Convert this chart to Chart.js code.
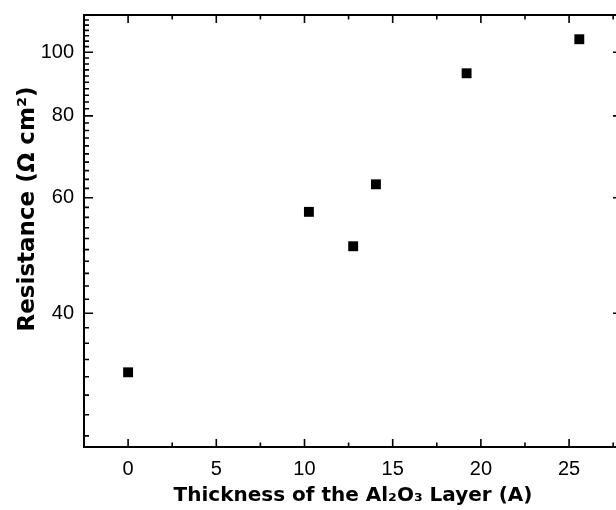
<!DOCTYPE html>
<html>
<head>
<meta charset="utf-8">
<script src="https://cdn.jsdelivr.net/npm/chart.js@4.4.1/dist/chart.umd.min.js"></script>
<style>
  html, body { margin: 0; padding: 0; background: #fff; overflow: hidden; }
  #wrap { position: relative; width: 626px; height: 510px; }
  #c { display: block; width: 626px; height: 510px; }
</style>
</head>
<body>
<div id="wrap"><canvas id="c" width="626" height="510"></canvas></div>
<script>
// ---- data ----
const thickness = [0, 10.25, 12.76, 14.05, 19.19, 25.58];
const resistance = [32.5, 57.1, 50.6, 62.9, 92.9, 104.7];
const xTickValues = [0, 5, 10, 15, 20, 25];
const yTickValues = [40, 60, 80, 100];
const xTitle = 'Thickness of the Al\u2082O\u2083 Layer (A)';
const yTitle = 'Resistance (\u03A9 cm\u00B2)';

const framePlugin = {
  id: 'frameTicks',
  beforeDraw(chart) {
    const s = chart.scales.y;
    if (s && !s._titleShifted) {
      const orig = s.drawTitle.bind(s);
      s.drawTitle = function () {
        this.ctx.save();
        this.ctx.translate(0, -22);
        orig();
        this.ctx.restore();
      };
      s._titleShifted = true;
    }
  },
  afterDraw(chart) {
    const ctx = chart.ctx;
    const a = chart.chartArea;
    const xs = chart.scales.x, ys = chart.scales.y;
    ctx.save();
    ctx.strokeStyle = '#000';
    ctx.lineWidth = 2;
    ctx.strokeRect(a.left, a.top, a.right - a.left, a.bottom - a.top);
    ctx.lineWidth = 1.6;
    ctx.beginPath();
    for (let v = xs.min; v <= xs.max + 1e-9; v += 2.5) {
      const px = xs.getPixelForValue(v);
      if (px <= a.left + 1 || px >= a.right - 1) continue;
      const major = Math.abs(v / 5 - Math.round(v / 5)) < 1e-6;
      const len = major ? 8 : 4.5;
      ctx.moveTo(px, a.bottom); ctx.lineTo(px, a.bottom - len);
      ctx.moveTo(px, a.top); ctx.lineTo(px, a.top + len);
    }
    for (let v = 26; v <= ys.max + 1e-9; v += 2) {
      const py = ys.getPixelForValue(v);
      if (py <= a.top + 1 || py >= a.bottom - 1) continue;
      const major = yTickValues.includes(v);
      const len = major ? 9 : 5;
      ctx.moveTo(a.left, py); ctx.lineTo(a.left + len, py);
      ctx.moveTo(a.right, py); ctx.lineTo(a.right - len, py);
    }
    ctx.stroke();
    ctx.restore();
  }
};

new Chart(document.getElementById('c'), {
  type: 'scatter',
  data: {
    datasets: [{
      data: thickness.map((x, i) => ({ x: x, y: resistance[i] })),
      pointStyle: 'rect',
      pointRadius: 7,
      pointBorderWidth: 0,
      backgroundColor: '#000',
      borderColor: '#000'
    }]
  },
  options: {
    responsive: false,
    maintainAspectRatio: false,
    devicePixelRatio: 1,
    animation: false,
    events: [],
    layout: { autoPadding: false, padding: { left: 0, right: 4, top: 15, bottom: 0 } },
    plugins: { legend: { display: false }, tooltip: { enabled: false } },
    scales: {
      x: {
        type: 'linear', min: -2.5, max: 28,
        grid: { display: false, drawTicks: false },
        border: { display: false },
        afterBuildTicks: (s) => { s.ticks = xTickValues.map(v => ({ value: v })); },
        afterFit: (s) => { s.height = 63; s.paddingLeft = 0; s.paddingRight = 0; },
        ticks: { color: '#000', padding: 10, font: { family: 'Liberation Sans', size: 20 }, callback: (v) => String(v) },
        title: { display: true, text: xTitle, color: '#000', font: { family: 'DejaVu Sans', size: 20, weight: 'bold' }, padding: { top: 0, bottom: 2 } }
      },
      y: {
        type: 'logarithmic', min: 25, max: 114,
        grid: { display: false, drawTicks: false },
        border: { display: false },
        afterBuildTicks: (s) => { s.ticks = yTickValues.map(v => ({ value: v })); },
        afterFit: (s) => { s.width = 84; s.paddingTop = 0; s.paddingBottom = 0; },
        ticks: { color: '#000', padding: 10, font: { family: 'Liberation Sans', size: 20 }, callback: (v) => String(v) },
        title: { display: true, text: yTitle, color: '#000', font: { family: 'DejaVu Sans', size: 23, weight: 'bold' }, padding: { top: 14, bottom: 0 } }
      }
    }
  },
  plugins: [framePlugin]
});
</script>
</body>
</html>
